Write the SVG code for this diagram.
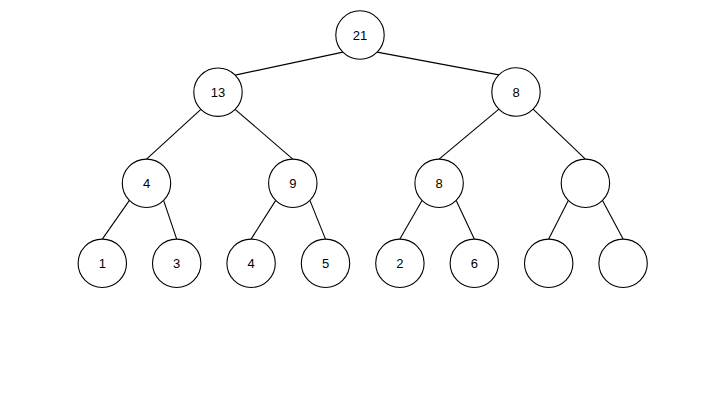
<svg xmlns="http://www.w3.org/2000/svg" width="720" height="405" viewBox="0 0 720 405">
<style>
.n circle{fill:#fff;stroke:#000;stroke-width:1.1}
.n text{font-family:"Liberation Sans",Arial,sans-serif;font-size:13px;fill:#000;text-anchor:middle;dominant-baseline:central}
#edges line{stroke:#000;stroke-width:1.1}
</style>
<rect width="720" height="405" fill="#fff"/>
<g id="edges">
<line x1="342.9" y1="52.1" x2="235.1" y2="75.1"/>
<line x1="377.1" y1="52.1" x2="498.9" y2="74.9"/>
<line x1="200.9" y1="109.3" x2="146.5" y2="159.1"/>
<line x1="235.1" y1="109.3" x2="292.8" y2="159.1"/>
<line x1="498.9" y1="109.1" x2="439.1" y2="159.1"/>
<line x1="533.1" y1="109.1" x2="585.4" y2="159.1"/>
<line x1="129.4" y1="200.4" x2="102.3" y2="239.1"/>
<line x1="163.6" y1="200.4" x2="176.7" y2="239.1"/>
<line x1="275.7" y1="200.4" x2="251.1" y2="239.1"/>
<line x1="309.9" y1="200.4" x2="325.5" y2="239.1"/>
<line x1="422.0" y1="200.4" x2="399.9" y2="239.1"/>
<line x1="456.2" y1="200.4" x2="474.3" y2="239.1"/>
<line x1="568.3" y1="200.4" x2="548.7" y2="239.1"/>
<line x1="602.5" y1="200.4" x2="623.1" y2="239.1"/>
</g>
<g id="n21" class="n"><circle cx="360" cy="35" r="24.2"/><text x="360" y="35">21</text></g>
<g id="n13" class="n"><circle cx="218" cy="92.2" r="24.2"/><text x="218" y="92.2">13</text></g>
<g id="n8a" class="n"><circle cx="516" cy="92" r="24.2"/><text x="516" y="92">8</text></g>
<g id="n4a" class="n"><circle cx="146.5" cy="183.3" r="24.2"/><text x="146.5" y="183.3">4</text></g>
<g id="n9" class="n"><circle cx="292.8" cy="183.3" r="24.2"/><text x="292.8" y="183.3">9</text></g>
<g id="n8b" class="n"><circle cx="439.1" cy="183.3" r="24.2"/><text x="439.1" y="183.3">8</text></g>
<g id="nEmpty1" class="n"><circle cx="585.4" cy="183.3" r="24.2"/></g>
<g id="n1" class="n"><circle cx="102.3" cy="263.3" r="24.2"/><text x="102.3" y="263.3">1</text></g>
<g id="n3" class="n"><circle cx="176.7" cy="263.3" r="24.2"/><text x="176.7" y="263.3">3</text></g>
<g id="n4b" class="n"><circle cx="251.1" cy="263.3" r="24.2"/><text x="251.1" y="263.3">4</text></g>
<g id="n5" class="n"><circle cx="325.5" cy="263.3" r="24.2"/><text x="325.5" y="263.3">5</text></g>
<g id="n2" class="n"><circle cx="399.9" cy="263.3" r="24.2"/><text x="399.9" y="263.3">2</text></g>
<g id="n6" class="n"><circle cx="474.3" cy="263.3" r="24.2"/><text x="474.3" y="263.3">6</text></g>
<g id="nEmpty2" class="n"><circle cx="548.7" cy="263.3" r="24.2"/></g>
<g id="nEmpty3" class="n"><circle cx="623.1" cy="263.3" r="24.2"/></g>
</svg>
